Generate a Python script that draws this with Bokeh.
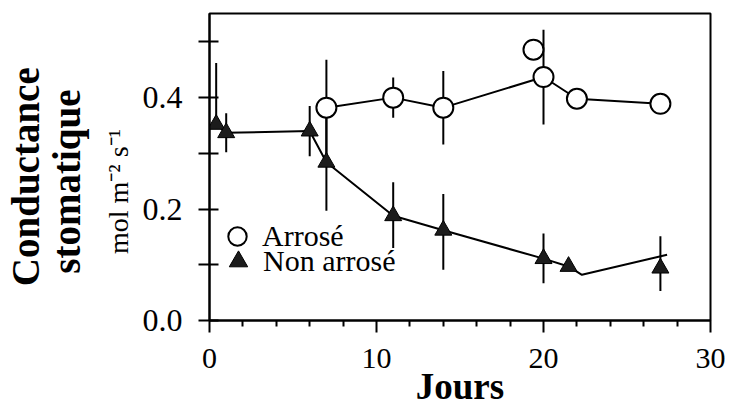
from bokeh.plotting import figure
from bokeh.models import (Range1d, FixedTicker, Legend, LegendItem, LinearAxis,
                          ColumnDataSource, PrintfTickFormatter)
from bokeh.embed import file_html
from bokeh.resources import INLINE

# ---------------- data ----------------
# Arrosé (watered) : open circles
arr_days = [7, 11, 14, 20, 22, 27]
arr_g = [0.382, 0.400, 0.382, 0.437, 0.398, 0.389]
arr_err = [0.086, 0.036, 0.066, 0.085, 0.0, 0.0]
arr_extra_days = [19.4]
arr_extra_g = [0.486]

# Non arrosé (not watered) : filled triangles
non_days = [0.4, 1, 6, 7, 11, 14, 20, 21.5, 27]
non_g = [0.352, 0.337, 0.340, 0.284, 0.188, 0.162, 0.111, 0.097, 0.094]
non_err_up = [0.110, 0.035, 0.045, 0.087, 0.060, 0.065, 0.045, 0.0, 0.057]
non_err_lo = [0.0, 0.035, 0.045, 0.087, 0.058, 0.071, 0.044, 0.0, 0.041]
# connecting line as drawn in the original figure
non_line_days = [0.4, 1, 6, 7, 11, 14, 20, 21.5, 22.3, 27.4]
non_line_g = [0.352, 0.337, 0.340, 0.284, 0.188, 0.162, 0.111, 0.097, 0.082, 0.118]

x_ticks = [0, 10, 20, 30]
x_minor = [2, 4, 6, 8, 12, 14, 16, 18, 22, 24, 26, 28]
y_ticks = [0.0, 0.2, 0.4]
y_minor = [0.1, 0.3, 0.5]

x_title = "Jours"
y_title_1 = "Conductance"
y_title_2 = "stomatique"
y_unit = "mol m\u207b\u00b2 s\u207b\u00b9"
series_names = ["Arrosé", "Non arrosé"]

SERIF = "Liberation Serif"
NB = "\u00a0"

# ---------------- figure ----------------
p = figure(width=729, height=409, output_backend="svg", toolbar_location=None,
           x_range=Range1d(0, 30), y_range=Range1d(0, 0.551),
           min_border_left=206, min_border_right=19,
           min_border_top=13, min_border_bottom=87)
p.xgrid.visible = False
p.ygrid.visible = False
p.outline_line_color = "black"
p.outline_line_width = 2
p.outline_line_alpha = 1
p.background_fill_color = "white"
p.border_fill_color = "white"

xa = p.xaxis[0]
xa.ticker = FixedTicker(ticks=x_ticks, minor_ticks=x_minor)
xa.formatter = PrintfTickFormatter(format="%d")
xa.major_label_text_font = SERIF
xa.major_label_text_font_size = "30px"
xa.major_label_text_color = "black"
xa.major_tick_in = 0
xa.major_tick_out = 12
xa.minor_tick_in = 0
xa.minor_tick_out = 6
xa.axis_line_width = 2
xa.major_tick_line_width = 2
xa.minor_tick_line_width = 2
xa.major_label_standoff = 16
xa.axis_label = x_title
xa.axis_label_text_font = SERIF
xa.axis_label_text_font_style = "bold"
xa.axis_label_text_font_size = "37px"
xa.axis_label_text_color = "black"
xa.axis_label_standoff = -5

ya = p.yaxis[0]
ya.ticker = FixedTicker(ticks=y_ticks, minor_ticks=y_minor)
ya.formatter = PrintfTickFormatter(format="%.1f")
ya.major_label_text_font = SERIF
ya.major_label_text_font_size = "32px"
ya.major_label_text_color = "black"
ya.major_tick_in = 9
ya.major_tick_out = 11
ya.minor_tick_in = 9
ya.minor_tick_out = 11
ya.axis_line_width = 2
ya.major_tick_line_width = 2
ya.minor_tick_line_width = 2
ya.major_label_standoff = 16
ya.axis_label = y_unit + NB * 7
ya.axis_label_text_font = SERIF
ya.axis_label_text_font_style = "normal"
ya.axis_label_text_font_size = "28px"
ya.axis_label_text_color = "black"
ya.axis_label_standoff = 6


def title_axis(text, standoff):
    ax = LinearAxis(ticker=FixedTicker(ticks=[]), axis_label=text,
                    axis_line_color=None, major_tick_line_color=None,
                    minor_tick_line_color=None, major_tick_in=0,
                    major_tick_out=0, minor_tick_in=0, minor_tick_out=0,
                    major_label_standoff=0, axis_label_standoff=standoff,
                    axis_label_text_font=SERIF,
                    axis_label_text_font_style="bold",
                    axis_label_text_font_size="39px",
                    axis_label_text_color="black")
    p.add_layout(ax, "left")


title_axis(y_title_2 + NB * 3, 12)
title_axis(y_title_1 + NB * 2, -5)

# ---------------- error bars ----------------
arr_src = ColumnDataSource(dict(
    x=arr_days, y=arr_g,
    lo=[g - e for g, e in zip(arr_g, arr_err)],
    hi=[g + e for g, e in zip(arr_g, arr_err)]))
non_src = ColumnDataSource(dict(
    x=non_days, y=non_g,
    lo=[g - e for g, e in zip(non_g, non_err_lo)],
    hi=[g + e for g, e in zip(non_g, non_err_up)]))

p.segment(x0="x", y0="lo", x1="x", y1="hi", source=arr_src,
          line_color="black", line_width=2)
p.segment(x0="x", y0="lo", x1="x", y1="hi", source=non_src,
          line_color="black", line_width=2)

# ---------------- lines ----------------
p.line(arr_days, arr_g, line_color="black", line_width=2)
p.line(non_line_days, non_line_g, line_color="black", line_width=2)

# ---------------- markers ----------------
r_tri = p.scatter(x="x", y="y", source=non_src, marker="triangle", size=17,
                  fill_color="#1c1c1c", line_color="black", line_width=1)
r_circ = p.scatter(x="x", y="y", source=arr_src, marker="circle", size=20,
                   fill_color="white", line_color="black", line_width=2)
p.scatter(arr_extra_days, arr_extra_g, marker="circle", size=20,
          fill_color="white", line_color="black", line_width=2)

# ---------------- legend (two one-item legends) ----------------
def one_legend(name, rend, loc):
    lg = Legend(items=[LegendItem(label=name, renderers=[rend])], location=loc,
                orientation="vertical", padding=0, margin=0, spacing=0,
                glyph_width=46, glyph_height=46, label_standoff=2,
                label_text_font=SERIF, label_text_font_size="30px",
                label_text_color="black",
                background_fill_alpha=0, border_line_alpha=0)
    p.add_layout(lg)


one_legend(series_names[0], r_circ, (5, 61.5))
one_legend(series_names[1], r_tri, (6, 36.5))

open("out.html", "w").write(file_html(p, INLINE))
